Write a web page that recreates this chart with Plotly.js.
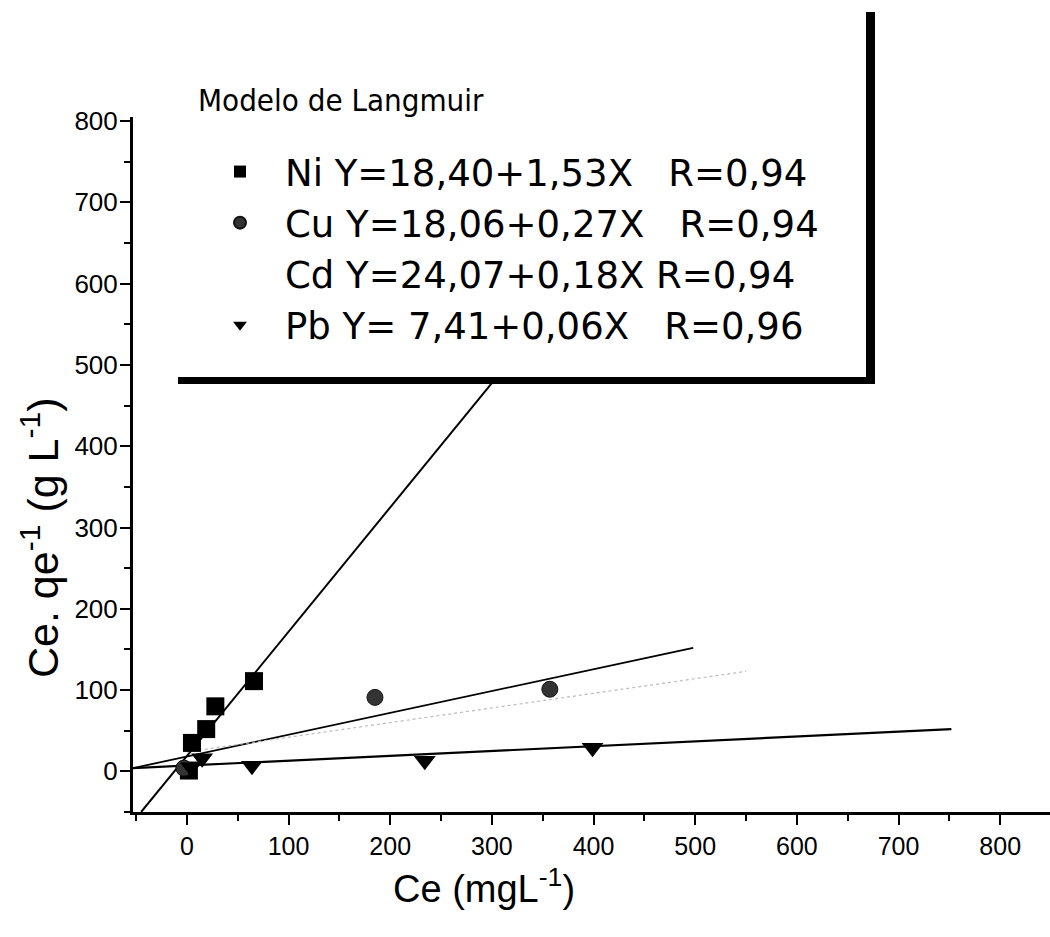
<!DOCTYPE html>
<html>
<head>
<meta charset="utf-8">
<script src="https://cdn.plot.ly/plotly-3.0.1.min.js"></script>
<style>html,body{margin:0;padding:0;background:#fff;}#chart{width:1050px;height:937px;}</style>
</head>
<body>
<div id="chart"></div>
<script>
const niX = [2, 5, 19, 28, 66];
const niY = [1, 35, 52, 80, 111];
const cuX = [-3, 185, 357];
const cuY = [4, 91, 101];
const cdX = [null];
const cdY = [null];
const pbX = [4, 15, 64, 234, 399];
const pbY = [5, 16, 7, 13, 29];

// Fitted lines (end points)
const niFitX = [-45, 310];
const niFitY = [-50, 493];
const cuFitX = [-53, 498];
const cuFitY = [4, 152];
const cdFitX = [0, 550];
const cdFitY = [24, 123];
const pbFitX = [-53, 752];
const pbFitY = [4, 52];

// Legend labels
const legendTitle = 'Modelo de Langmuir';
const niLabel = 'Ni\u00a0Y=18,40+1,53X\u00a0\u00a0\u00a0R=0,94';
const cuLabel = 'Cu\u00a0Y=18,06+0,27X\u00a0\u00a0\u00a0R=0,94';
const cdLabel = 'Cd\u00a0Y=24,07+0,18X\u00a0R=0,94';
const pbLabel = 'Pb\u00a0Y=\u00a07,41+0,06X\u00a0\u00a0\u00a0R=0,96';

const xTicks = [0, 100, 200, 300, 400, 500, 600, 700, 800];
const yTicks = [0, 100, 200, 300, 400, 500, 600, 700, 800];

const L = 133, T = 117, W = 917, H = 695;
const px = v => (v - L) / W;
const py = v => (T + H - v) / H;

const SANS = 'Liberation Sans, Arial, sans-serif';
const COND = 'DejaVu Sans Condensed, Liberation Sans, sans-serif';
const WIDE = 'DejaVu Sans, Liberation Sans, sans-serif';

const traces = [
  {x: niFitX, y: niFitY, mode: 'lines', line: {color: '#000', width: 2}, showlegend: false, hoverinfo: 'skip'},
  {x: cuFitX, y: cuFitY, mode: 'lines', line: {color: '#000', width: 1.8}, showlegend: false, hoverinfo: 'skip'},
  {x: cdFitX, y: cdFitY, mode: 'lines', line: {color: '#bbb', width: 1.2, dash: 'dot'}, showlegend: false, hoverinfo: 'skip'},
  {x: pbFitX, y: pbFitY, mode: 'lines', line: {color: '#000', width: 2.2}, showlegend: false, hoverinfo: 'skip'},
  {x: niX, y: niY, mode: 'markers', name: niLabel, legendrank: 1, marker: {symbol: 'square', size: 18, color: '#000'}},
  {x: cuX, y: cuY, mode: 'markers', name: cuLabel, legendrank: 2, marker: {symbol: 'circle', size: 16, color: '#333', line: {color: '#111', width: 1}}},
  {x: cdX, y: cdY, mode: 'markers', name: cdLabel, legendrank: 3, showlegend: true, marker: {symbol: 'circle', size: 10, color: 'rgba(0,0,0,0)'}},
  {x: pbX, y: pbY, mode: 'markers', name: pbLabel, legendrank: 4, marker: {symbol: 'triangle-down', size: 19, color: '#000'}}
];

const axisCommon = {
  showgrid: false, zeroline: false, showline: true, linecolor: '#000', linewidth: 3,
  ticks: 'outside', ticklen: 10, tickwidth: 2, tickcolor: '#000',
  minor: {ticks: 'outside', dtick: 50, ticklen: 6, tickwidth: 2, tickcolor: '#000'},
  tickmode: 'array'
};

const layout = {
  width: 1050, height: 937,
  margin: {l: L, r: 1050 - L - W, t: T, b: 937 - T - H, pad: 0},
  paper_bgcolor: '#fff', plot_bgcolor: '#fff',
  showlegend: true,
  xaxis: Object.assign({}, axisCommon, {
    range: [-53, 849], tickvals: xTicks, ticktext: xTicks.map(String),
    tickfont: {family: SANS, size: 25, color: '#000'}
  }),
  yaxis: Object.assign({}, axisCommon, {
    range: [-50, 805], tickvals: yTicks, ticktext: yTicks.map(String),
    ticklabelstandoff: -3,
    tickfont: {family: SANS, size: 26, color: '#000'}
  }),
  legend: {
    x: px(195), y: py(141), xanchor: 'left', yanchor: 'top',
    bgcolor: 'rgba(0,0,0,0)', borderwidth: 0,
    font: {family: WIDE, size: 37, color: '#000'},
    itemwidth: 80, itemsizing: 'constant', tracegroupgap: 0, traceorder: 'normal'
  },
  shapes: [
    {type: 'rect', xref: 'paper', yref: 'paper', layer: 'above', x0: px(176), x1: px(866), y0: py(377), y1: py(0), fillcolor: '#fff', line: {width: 0}},
    {type: 'rect', xref: 'paper', yref: 'paper', layer: 'above', x0: px(866), x1: px(875), y0: py(384), y1: py(12), fillcolor: '#000', line: {width: 0}},
    {type: 'rect', xref: 'paper', yref: 'paper', layer: 'above', x0: px(178), x1: px(875), y0: py(384), y1: py(377), fillcolor: '#000', line: {width: 0}}
  ],
  annotations: [
    {text: legendTitle, xref: 'paper', yref: 'paper', x: px(196), y: py(100), xanchor: 'left', yanchor: 'middle', showarrow: false,
     font: {family: COND, size: 31, color: '#000'}},
    {text: 'Ce. qe<sup>-1</sup> (g L<sup>-1</sup>)', xref: 'paper', yref: 'paper', x: px(40), y: py(538), xanchor: 'center', yanchor: 'middle', textangle: -90, showarrow: false,
     font: {family: SANS, size: 43, color: '#000'}},
    {text: 'Ce (mgL<sup>-1</sup>)', xref: 'paper', yref: 'paper', x: px(484), y: py(886), xanchor: 'center', yanchor: 'middle', showarrow: false,
     font: {family: SANS, size: 38, color: '#000'}}
  ]
};

Plotly.newPlot('chart', traces, layout, {displayModeBar: false, staticPlot: true});
</script>
</body>
</html>
